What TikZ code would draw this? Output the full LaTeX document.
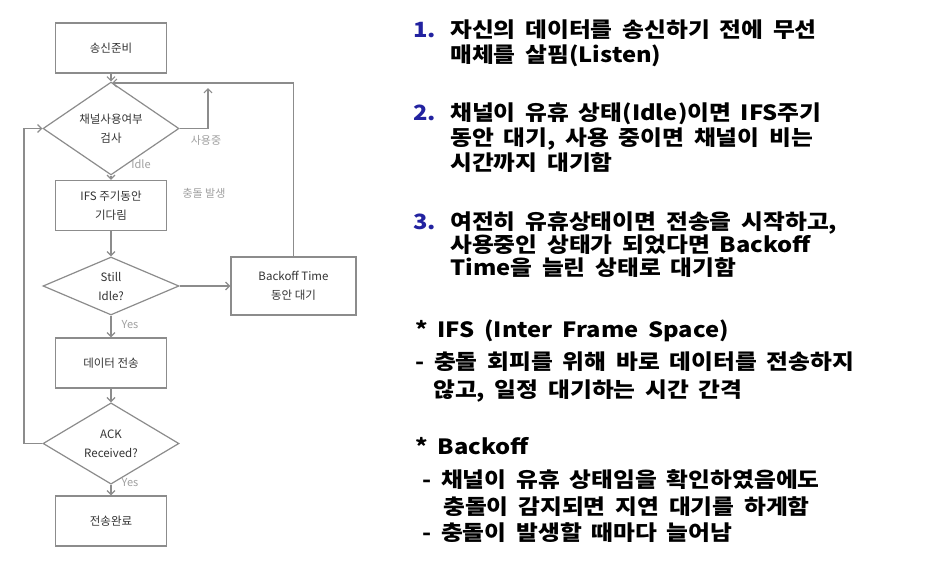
\documentclass[tikz,border=0pt]{standalone}
\usepackage{fontspec}
\newfontfamily\kr{Noto Sans CJK KR}
\newfontfamily\krw[FakeStretch=1.13,WordSpace=1.8]{Noto Sans CJK KR}
\usetikzlibrary{shapes.geometric,arrows.meta}
\definecolor{ln}{HTML}{8C8C8C}
\definecolor{tx}{HTML}{333333}
\definecolor{lb}{HTML}{A0A0A0}
\definecolor{num}{HTML}{2222A0}
\tikzset{
  box/.style={draw=ln,line width=1.2pt,rectangle,minimum width=111pt,minimum height=50pt,inner sep=0pt,align=center,font=\kr\fontsize{11.5}{19}\selectfont,text=tx},
  dia/.style={draw=ln,line width=1.2pt,diamond,minimum width=136pt,minimum height=58pt,inner sep=0pt,align=center,font=\kr\fontsize{11.5}{19}\selectfont,text=tx},
  arr/.style={draw=ln,line width=1.2pt,-{Straight Barb[length=4pt,width=8pt]}},
  lbl/.style={font=\kr\fontsize{11}{12}\selectfont,text=lb,inner sep=0pt},
  para/.style={anchor=base west,inner sep=0pt,font=\krw\bfseries\fontsize{21}{24}\selectfont},
  nr/.style={anchor=base west,inner sep=0pt,font=\krw\bfseries\fontsize{21}{24}\selectfont,text=num}
}
\begin{document}
\begin{tikzpicture}[x=1pt,y=-1pt]
\useasboundingbox[fill=white] (0,0) rectangle (943,560);
% flowchart nodes
\node[box] (start) at (111,48) {송신준비};
\node[dia] (d1) at (111,128.5) {채널사용여부\\검사};
\node[box] (ifs) at (111,205.5) {IFS 주기동안\\기다림};
\node[dia] (d2) at (111,286) {Still\\Idle?};
\node[box,minimum width=125pt,minimum height=58pt] (back) at (293.5,286) {Backoff Time\\동안 대기};
\node[box] (data) at (111,363) {데이터 전송};
\node[dia] (d3) at (111,443.5) {ACK\\Received?};
\node[box] (done) at (111,521) {전송완료};
\coordinate (j1) at (112,83);
\coordinate (j2) at (208,88);
\coordinate (j3) at (24,300);
% connectors
\draw[arr] (start.south) -- (d1.north);
\draw[arr] (back.north) |- (j1);
\draw[arr] (d1.east) -| (j2);
\draw[arr] (d1.south) -- (ifs.north);
\draw[arr] (ifs.south) -- (d2.north);
\draw[arr] (d2.east) -- (back.west);
\draw[arr] (d2.south) -- (data.north);
\draw[arr] (data.south) -- (d3.north);
\draw[arr] (d3.west) -| (j3) |- (d1.west);
\draw[arr] (d3.south) -- (done.north);
% labels
\node[lbl] (l1) at (206,140) {사용중};
\node[lbl] (l2) at (141,164) {Idle};
\node[lbl] (l3) at (204,193) {충돌 발생};
\node[lbl] (l4) at (130,325) {Yes};
\node[lbl] (l5) at (130,483) {Yes};
% right text
\node[nr] (n1) at (413,37) {1.};
\node[para] (t1a) at (450,37) {자신의 데이터를 송신하기 전에 무선};
\node[para] (t1b) at (450,62) {매체를 살핌(Listen)};
\node[nr] (n2) at (413,120) {2.};
\node[para] (t2a) at (450,120) {채널이 유휴 상태(Idle)이면 IFS주기};
\node[para] (t2b) at (450,145) {동안 대기, 사용 중이면 채널이 비는};
\node[para] (t2c) at (450,170) {시간까지 대기함};
\node[nr] (n3) at (413,229) {3.};
\node[para] (t3a) at (450,229) {여전히 유휴상태이면 전송을 시작하고,};
\node[para] (t3b) at (450,252) {사용중인 상태가 되었다면 Backoff};
\node[para] (t3c) at (450,275) {Time을 늘린 상태로 대기함};
\node[para] (s1) at (415,337) {* IFS (Inter Frame Space)};
\node[para] (s1a) at (415,369) {- 충돌 회피를 위해 바로 데이터를 전송하지};
\node[para] (s1b) at (433,397) {않고, 일정 대기하는 시간 간격};
\node[para] (s2) at (415,454) {* Backoff};
\node[para] (s2a) at (422,487) {- 채널이 유휴 상태임을 확인하였음에도};
\node[para] (s2b) at (443,514) {충돌이 감지되면 지연 대기를 하게함};
\node[para] (s2c) at (422,540) {- 충돌이 발생할 때마다 늘어남};
\end{tikzpicture}
\end{document}
